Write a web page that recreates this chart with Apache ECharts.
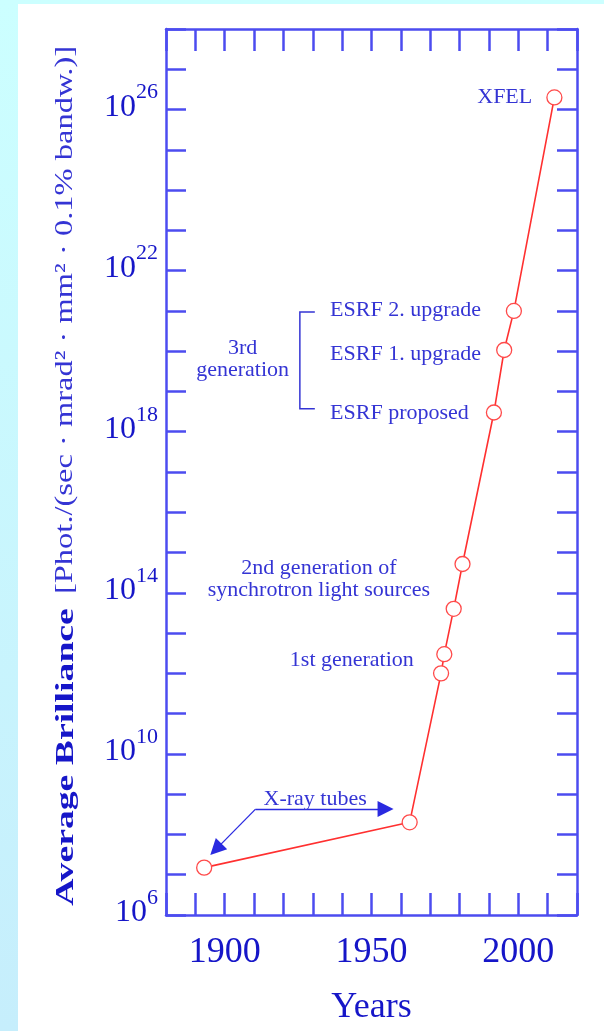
<!DOCTYPE html>
<html><head><meta charset="utf-8">
<script src="https://cdn.jsdelivr.net/npm/echarts@6/dist/echarts.min.js"></script>
<style>
html,body{margin:0;padding:0;width:604px;height:1031px;overflow:hidden;background:linear-gradient(#ccffff,#c6eefc);}
#chart{position:absolute;left:18px;top:4px;width:586px;height:1027px;background:#fff;}
</style></head><body><div id="chart"></div>
<script>
// ---- data ----
const years      = [1893, 1963, 1973.7, 1974.8, 1978, 1981, 1991.7, 1995.2, 1998.5, 2012.3];
const brilliance = [1.5e7, 2e8, 1e12, 3e12, 4e13, 5.2e14, 3e18, 1.07e20, 1e21, 2e26];
const pointNames = ['', '', '', '', '', '', '', '', '', 'XFEL'];
const xTickLabels = [1900, 1950, 2000];
const yTickExponents = [6, 10, 14, 18, 22, 26];

// ---- annotation anchors (axis units: year, log10 brilliance) ----
const noteTexts  = ['3rd\ngeneration', 'ESRF 2. upgrade', 'ESRF 1. upgrade', 'ESRF proposed',
                    '2nd generation of\nsynchrotron light sources', '1st generation', 'X-ray tubes'];
const noteAnchors = [[1906.1, 19.81], [1935.9, 21.02], [1935.9, 19.93], [1935.9, 18.47],
                     [1932.1, 14.34], [1943.3, 12.33], [1930.8, 8.88]];
const noteAlign  = ['center', 'left', 'left', 'left', 'center', 'center', 'center'];
const bracketPath = [[1930.7, 20.97], [1925.6, 20.97], [1925.6, 18.57], [1930.7, 18.57]];
const arrowPaths  = [[[1910.5, 8.63], [1954.8, 8.63]], [[1910.5, 8.63], [1897.0, 7.63]]];

const AXIS = '#4c4cf0', LABEL = '#1616c8', NOTE = '#3434d4', FONT = 'Liberation Serif';

const chart = echarts.init(document.getElementById('chart'));
const tickStyle = {lineStyle: {color: AXIS, width: 2.5}};
const xBase = {type: 'value', min: 1880, max: 2020, interval: 10, splitLine: {show: false},
  axisLine: {lineStyle: {color: AXIS, width: 2.5}},
  axisTick: Object.assign({inside: true, length: 22}, tickStyle)};
const yBase = {type: 'value', min: 6, max: 28, interval: 1, splitLine: {show: false},
  axisLine: {lineStyle: {color: AXIS, width: 2.5}},
  axisTick: Object.assign({inside: true, length: 20}, tickStyle)};

const option = {
  animation: false,
  grid: {left: 148, right: 27, top: 25, bottom: 116},
  xAxis: [
    Object.assign({}, xBase, {position: 'bottom',
      axisLabel: {interval: 0, hideOverlap: false, margin: 20, color: LABEL, fontFamily: FONT, fontSize: 36,
        formatter: v => xTickLabels.includes(v) ? String(v) : ''},
      name: 'Years', nameLocation: 'middle', nameGap: 75,
      nameTextStyle: {color: LABEL, fontFamily: FONT, fontSize: 36}}),
    Object.assign({}, xBase, {position: 'top', axisLabel: {show: false}})
  ],
  yAxis: [
    Object.assign({}, yBase, {position: 'left',
      axisLabel: {interval: 0, hideOverlap: false, margin: 8, color: LABEL, fontFamily: FONT,
        padding: [0, 0, 4, 0],
        formatter: v => yTickExponents.includes(v) ? '{b|10}{s|' + v + '}' : '',
        rich: {
          b: {fontSize: 32, fontFamily: FONT, color: LABEL, verticalAlign: 'middle', lineHeight: 52},
          s: {fontSize: 22, fontFamily: FONT, color: LABEL, verticalAlign: 'top', lineHeight: 22}
        }}}),
    Object.assign({}, yBase, {position: 'right', axisLabel: {show: false}})
  ],
  series: [
    {type: 'line', name: 'Average brilliance', z: 5,
      data: years.map((y, i) => ({value: [y, Math.log10(brilliance[i])], name: pointNames[i],
        label: pointNames[i] ? {show: true, position: 'left', distance: 14, formatter: '{b}',
          color: NOTE, fontFamily: FONT, fontSize: 22} : {show: false}})),
      symbol: 'circle', symbolSize: 15,
      itemStyle: {color: '#ffffff', borderColor: '#ff4a4a', borderWidth: 1.3},
      lineStyle: {color: '#ff3030', width: 1.6}},
    {type: 'lines', coordinateSystem: 'cartesian2d', polyline: true, z: 3,
      lineStyle: {color: NOTE, width: 1.5, opacity: 1},
      data: [{coords: bracketPath}]},
    {type: 'lines', coordinateSystem: 'cartesian2d', z: 3,
      symbol: ['none', 'triangle'], symbolSize: [0, 16],
      lineStyle: {color: '#2a2ae0', width: 1.3, opacity: 1},
      itemStyle: {color: '#1a1ae0'},
      data: arrowPaths.map(p => ({coords: p}))}
  ]
};
chart.setOption(option);

const graphics = noteTexts.map((t, i) => {
  const p = chart.convertToPixel({gridIndex: 0}, noteAnchors[i]);
  return {type: 'text', x: p[0], y: p[1], z: 10, silent: true,
    style: {text: t, fill: NOTE, font: '22px "' + FONT + '"', align: noteAlign[i],
      verticalAlign: 'middle', lineHeight: 22}};
});
// y-axis title, two parts (bold name, units)
graphics.push({type: 'text', x: 48, y: 753, rotation: Math.PI / 2, scaleX: 1.45, silent: true,
  style: {text: 'Average Brilliance', align: 'center', verticalAlign: 'middle',
    font: 'bold 26px "' + FONT + '"', fill: LABEL}});
graphics.push({type: 'text', x: 47, y: 316, rotation: Math.PI / 2, scaleX: 1.3, silent: true,
  style: {text: '[Phot./(sec · mrad² · mm² · 0.1% bandw.)]', align: 'center', verticalAlign: 'middle',
    font: '25px "' + FONT + '"', fill: NOTE}});
chart.setOption({graphic: graphics});
</script></body></html>
